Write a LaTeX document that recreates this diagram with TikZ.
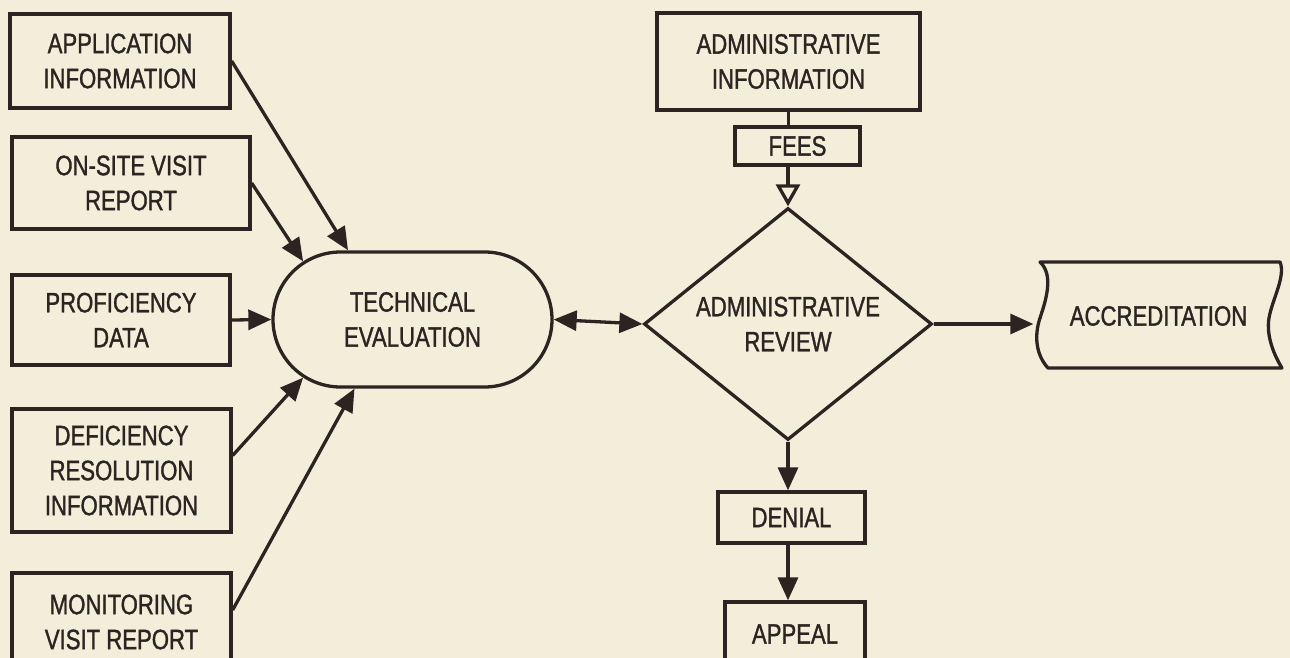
\documentclass[tikz,border=0pt]{standalone}
\usepackage{fontspec}
\setmainfont[FakeStretch=0.79,FakeBold=1.2]{Liberation Sans}
\usepackage{xcolor}
\usetikzlibrary{arrows.meta,shapes.geometric,shapes.misc,calc}
\definecolor{paper}{RGB}{243,238,218}
\definecolor{ink}{RGB}{45,36,34}
\tikzset{>={Triangle[length=23pt,width=20pt]}}
\tikzset{box/.style={draw=ink,line width=3.3pt,align=center,text=ink,inner sep=0pt,font=\fontsize{28}{35}\selectfont}}
\tikzset{flow/.style={draw=ink,line width=3.3pt,->}}

\begin{document}
\begin{tikzpicture}[x=1pt,y=-1pt]
  \useasboundingbox (0,0) rectangle (1290,658);
  \fill[paper] (0,0) rectangle (1290,658);

  % Inputs
  \node[box,minimum width=220pt,minimum height=94pt] (appinfo) at (120,61) {APPLICATION\\INFORMATION};
  \node[box,minimum width=238pt,minimum height=92pt] (onsite) at (131,183) {ON-SITE VISIT\\REPORT};
  \node[box,minimum width=218pt,minimum height=90pt] (profic) at (121,320) {PROFICIENCY\\DATA};
  \node[box,minimum width=219pt,minimum height=123pt] (defic) at (121.5,470.5) {DEFICIENCY\\RESOLUTION\\INFORMATION};
  \node[box,minimum width=219pt,minimum height=98pt] (monit) at (121.5,622) {MONITORING\\VISIT REPORT};

  % Review
  \node[box,rounded rectangle,minimum width=279pt,minimum height=135pt] (techeval) at (412.5,319.5) {TECHNICAL\\EVALUATION};
  \node[box,minimum width=263pt,minimum height=97pt] (adminfo) at (788.5,61.5) {ADMINISTRATIVE\\INFORMATION};
  \node[box,minimum width=125pt,minimum height=38pt] (fees) at (797.5,146) {FEES};
  \node[box,diamond,aspect=1.24,minimum width=288pt,minimum height=232pt] (adminrev) at (788,324) {ADMINISTRATIVE\\REVIEW};
  \node[box,minimum width=147pt,minimum height=51pt] (denial) at (791.5,517.5) {DENIAL};
  \node[box,minimum width=140pt,minimum height=64pt] (appeal) at (795,634) {APPEAL};

  % Accreditation
  \node[box,draw=none,minimum width=247pt,minimum height=107pt] (accr) at (1158.5,316) {ACCREDITATION};
  \draw[ink,line width=3.3pt,line join=round]
    (1040,262) .. controls (1054,275) and (1046,300) .. (1040,318)
    .. controls (1034,336) and (1036,355) .. (1048,368) -- (1282,368)
    .. controls (1274,355) and (1266,336) .. (1269,318)
    .. controls (1272,300) and (1286,276) .. (1280,262) -- cycle;

  % Lines
  \draw[flow] (appinfo.east) -- (techeval.133);
  \draw[flow] (onsite.east) -- (techeval.152);
  \draw[flow] (profic.east) -- (techeval.west);
  \draw[flow] ($(defic.east)+(0,-15)$) -- (techeval.208);
  \draw[flow] ($(monit.east)+(0,-12)$) -- (techeval.230);
  \draw[flow,<->] (techeval.east) -- (adminrev.west);
  \draw[ink,line width=3.3pt] (adminfo.south) -- (adminfo.south |- fees.north);
  \draw[flow,-{Triangle[open,length=22pt,width=24pt]}] (fees.south -| adminrev.north) -- (adminrev.north);
  \draw[flow] (adminrev.east) -- (adminrev.east -| accr.west);
  \draw[flow] (adminrev.south) -- (adminrev.south |- denial.north);
  \draw[flow] (adminrev.south |- denial.south) -- (adminrev.south |- appeal.north);
\end{tikzpicture}
\end{document}
